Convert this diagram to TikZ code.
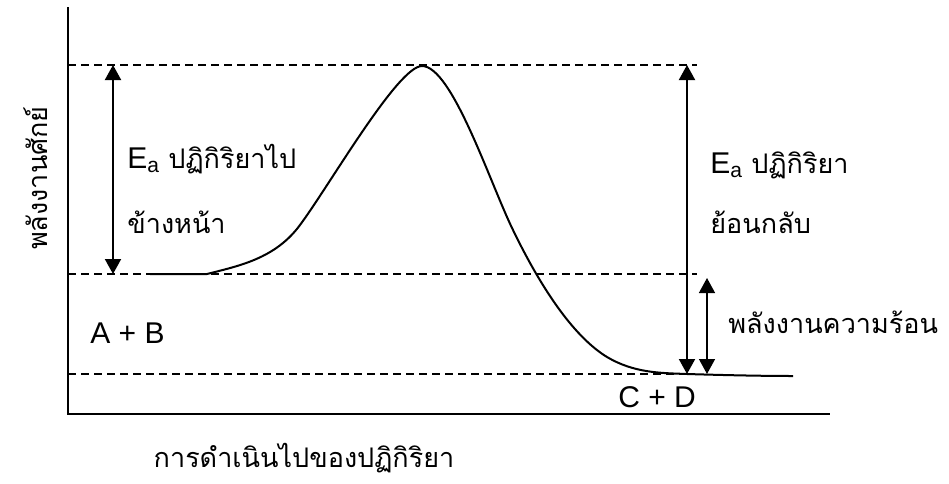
\documentclass[tikz,border=0pt]{standalone}
\usepackage{fontspec}
\setmainfont{Liberation Sans}
\newfontfamily\thaifont[Script=Thai,Scale=0.9]{Loma}
\usetikzlibrary{arrows.meta,positioning}
\tikzset{
  axis/.style={line width=1pt},
  lvl/.style={dash pattern=on 4pt off 2.5pt,line width=0.7pt},
  arr/.style={{Triangle[length=7.5pt,width=8pt]}-{Triangle[length=7.5pt,width=8pt]},
              line width=1pt},
  sarr/.style={arr,line width=0.7pt},
  curve/.style={line width=1pt,line join=round},
  lbl/.style={font=\fontsize{15}{18}\selectfont,inner sep=0pt,anchor=west},
}

\begin{document}
\begin{tikzpicture}[x=0.5pt,y=-0.5pt]
\useasboundingbox (0,0) rectangle (949,483);
% axes
\coordinate (ytop) at (68,7);
\coordinate (o) at (68,414);
\coordinate (xend) at (830,414);
\draw[axis] (ytop) -- (o) -- (xend);
% energy levels (dashed)
\coordinate (tsl) at (68,65);   \coordinate (tsr) at (697,65);
\coordinate (rl) at (68,274);   \coordinate (rr) at (697,274);
\coordinate (pl) at (68,374);   \coordinate (pr) at (687,374);
\draw[lvl] (tsl) -- (tsr);
\draw[lvl] (rl) -- (rr);
\draw[lvl] (pl) -- (pr);
% reaction profile
\draw[curve] (150,274) -- (207,274)
  .. controls (238,266) and (275,259) .. (300,225)
  .. controls (330,184.5) and (398,66) .. (422,66)
  .. controls (452,66) and (490,183) .. (513,230)
  .. controls (544,294) and (576,338) .. (607,357)
  .. controls (634,373) and (660,373) .. (687,374)
  .. controls (720,375) and (760,376) .. (793,376);
% activation energies
\coordinate (fa) at (113,65);  \coordinate (fb) at (113,274);
\coordinate (ra) at (687,65);  \coordinate (rb) at (687,374);
\coordinate (ha) at (707,278); \coordinate (hb) at (707,374);
\draw[arr] (fa) -- (fb);
\draw[arr] (ra) -- (rb);
\draw[sarr] (ha) -- (hb);
% labels
\node[lbl] (eafwd) at (127,159) {E\textsubscript{a} {\thaifont ปฏิกิริยาไป}};
\node[lbl] (eafwd2) at (127,222) {\thaifont ข้างหน้า};
\node[lbl] (earev) at (710,165) {E\textsubscript{a} {\thaifont ปฏิกิริยา}};
\node[lbl] (earev2) at (710,222) {\thaifont ย้อนกลับ};
\node[lbl] (heat) at (728,322) {\thaifont พลังงานความร้อน};
\node[lbl] (ab) at (90,333) {A + B};
\node[lbl] (cd) at (618,397) {C + D};
\node[lbl,anchor=center] (xlab) at (304,458) {\thaifont การดำเนินไปของปฏิกิริยา};
\node[lbl,anchor=center,rotate=90] (ylab) at (36,178) {\thaifont พลังงานศักย์};
\end{tikzpicture}
\end{document}
